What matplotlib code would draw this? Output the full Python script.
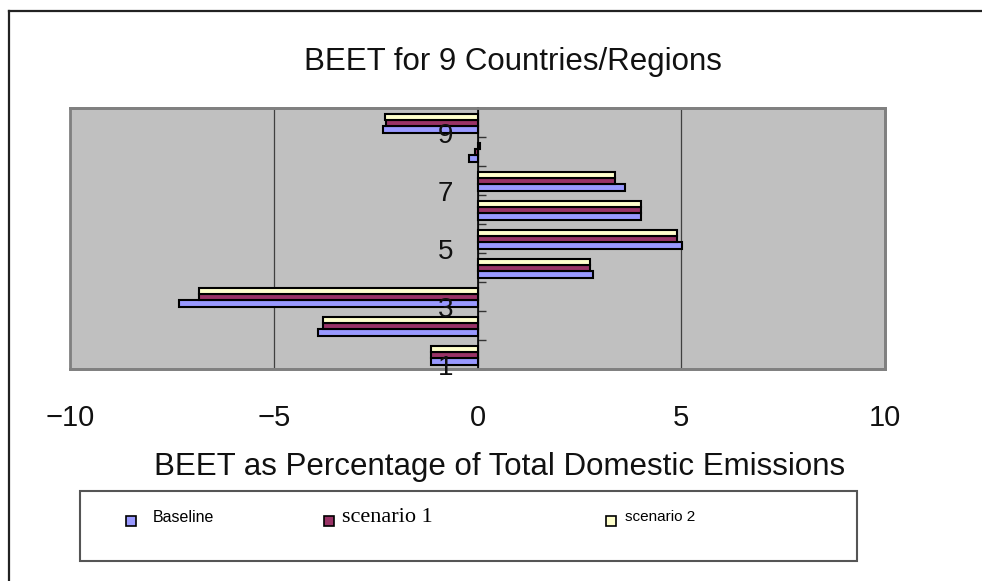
import numpy as np
import matplotlib
matplotlib.use("Agg")
import matplotlib.pyplot as plt
from matplotlib.patches import Rectangle
from matplotlib.lines import Line2D

plt.rcParams["font.family"] = ["Liberation Sans", "DejaVu Sans"]

# BEET (% of total domestic emissions) for the 9 countries/regions
regions = ["1", "2", "3", "4", "5", "6", "7", "8", "9"]
baseline = [-1.15, -3.92, -7.32, 2.83, 5.01, 4.02, 3.62, -0.22, -2.32]
scenario1 = [-1.15, -3.79, -6.83, 2.76, 4.90, 4.02, 3.37, -0.05, -2.25]
scenario2 = [-1.15, -3.79, -6.83, 2.77, 4.90, 4.02, 3.37, 0.07, -2.27]

series_names = ["Baseline", "scenario 1", "scenario 2"]
colors = ["#9999FF", "#993366", "#FFFFCC"]
xticks = [-10, -5, 0, 5, 10]

W, H = 982, 581


def fx(px):
    return px / W


def fy(py):
    return 1 - py / H


fig = plt.figure(figsize=(W / 100, H / 100), dpi=100)
fig.patch.set_facecolor("white")

# outer chart frame (only top and left edges are visible)
fig.add_artist(Line2D([fx(9), fx(9)], [fy(11), 0], color="#222222", lw=1.6))
fig.add_artist(Line2D([fx(9), 1], [fy(11), fy(11)], color="#222222", lw=1.6))

ax = fig.add_axes([fx(70), fy(369), fx(885) - fx(70), (369 - 108) / H])
ax.set_facecolor("#C0C0C0")

y = np.arange(1, len(regions) + 1)
bh = 0.215
shift = -0.03
ax.barh(y - bh + shift, baseline, height=bh, color=colors[0], edgecolor="black", linewidth=1.5, zorder=3)
ax.barh(y + shift, scenario1, height=bh, color=colors[1], edgecolor="black", linewidth=1.5, zorder=3)
ax.barh(y + bh + shift, scenario2, height=bh, color=colors[2], edgecolor="black", linewidth=1.5, zorder=3)

ax.set_xlim(-10, 10)
ax.set_ylim(0.5, 9.5)

# vertical gridlines
ax.set_xticks(xticks)
ax.set_xticklabels([str(t).replace("-", "\u2212") for t in xticks], fontsize=21, color="#111111")
ax.tick_params(axis="x", length=0, pad=25)
ax.grid(axis="x", color="#404040", lw=0.9, zorder=1)
ax.set_axisbelow(True)

# category axis sits at x = 0, ticks between categories
ax.spines["left"].set_position(("data", 0))
ax.spines["left"].set_color("black")
ax.spines["left"].set_linewidth(1.2)
ax.spines["left"].set_zorder(4)
ax.set_yticks(np.arange(0.5, len(regions) + 1, 1.0))
ax.set_yticklabels([])
ax.tick_params(axis="y", direction="in", length=6, width=1, color="#333333")
for s in ["top", "right", "bottom"]:
    ax.spines[s].set_color("#808080")
    ax.spines[s].set_linewidth(2)
ax.add_patch(Rectangle((0, 0), 1, 1, transform=ax.transAxes, fill=False,
                       edgecolor="#808080", lw=2, zorder=5, clip_on=False))

# every other category label, drawn just left of the axis
for i, lab in enumerate(regions):
    if i % 2 == 0:
        ax.text(-0.78, y[i] - 0.47, lab, ha="center", va="center", fontsize=20,
                color="#111111", zorder=6)

fig.text(fx(513), fy(62), "BEET for 9 Countries/Regions", ha="center", va="center",
         fontsize=22.5, color="#111111")
fig.text(fx(500), fy(467), "BEET as Percentage of Total Domestic Emissions", ha="center",
         va="center", fontsize=22.5, color="#111111")

# legend box
fig.add_artist(Rectangle((fx(80), fy(561)), fx(857) - fx(80), (561 - 491) / H,
                         transform=fig.transFigure, fill=False, edgecolor="#555555", lw=1.5))
leg_marker_x = [131, 329, 611]
leg_text_x = [153, 342, 625]
leg_fonts = [("Liberation Sans", 11.5), ("Liberation Serif", 16), ("Liberation Sans", 11)]
for name, c, mx, tx, (fam, fs) in zip(series_names, colors, leg_marker_x, leg_text_x, leg_fonts):
    fig.add_artist(Rectangle((fx(mx - 5), fy(526)), 10 / W, 10 / H, transform=fig.transFigure,
                             facecolor=c, edgecolor="black", lw=1.2))
    fig.text(fx(tx), fy(517), name, ha="left", va="center", fontsize=fs, family=fam)

fig.savefig("out.png", dpi=100)
